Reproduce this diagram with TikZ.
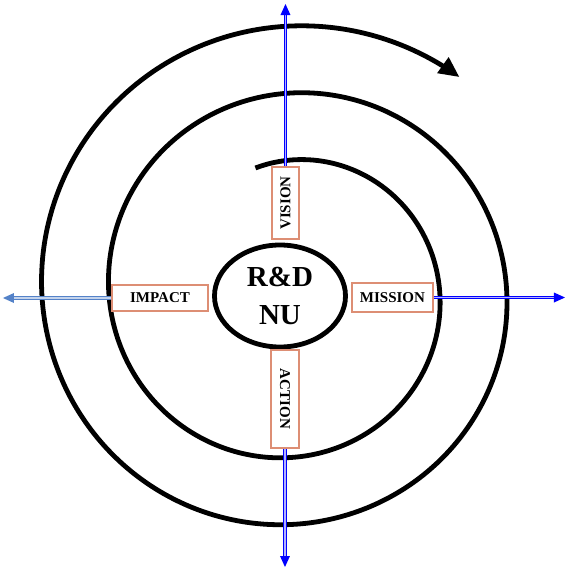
\documentclass[tikz,border=0pt]{standalone}
\usepackage{fontspec}
\setmainfont{Liberation Serif}
\usepackage{tikz}
\usetikzlibrary{shapes.geometric}
\definecolor{boxline}{RGB}{221,142,116}
\definecolor{impactblue}{RGB}{84,130,200}

\begin{document}
\begin{tikzpicture}[x=0.5pt,y=0.5pt]
\tikzstyle{every node}+=[inner sep=0pt]
\tikzstyle{label box}=[draw=boxline, line width=1pt, fill=white, font=\fontsize{7.5}{9}\selectfont\bfseries]
\tikzstyle{axis line}=[draw=blue, line width=0.6pt, double=blue!30, double distance=0.7pt]
\tikzstyle{spiral line}=[black, line width=2.4pt]
\useasboundingbox (-280,-278) rectangle (293,296);
% spiral, clockwise from the top
\draw [spiral line] plot [domain=-16:755, samples=300, smooth] ({11+(132+\x/360*67)*sin(\x)}, {4+(132+\x/360*67)*cos(\x)});
\fill [black] (179.1,219.2) -- (168.7,239.0) -- (157.1,222.8) -- cycle;
% centre and labels
\node (nu) [draw, ellipse, line width=2.4pt, fill=white, minimum width=65.5pt, minimum height=51pt, align=center, font=\fontsize{14.5}{19}\selectfont\bfseries] at (0,0) {R\&D\\NU};
\node (vision) [label box, rotate=90, minimum width=36pt, minimum height=13.5pt] at (5.5,93) {VISION};
\node (action) [label box, rotate=-90, minimum width=49pt, minimum height=14pt] at (5,-103) {ACTION};
\node (impact) [label box, minimum width=48pt, minimum height=13pt] at (-120,-2) {IMPACT};
\node (mission) [label box, minimum width=40.5pt, minimum height=14.5pt] at (112.5,-1.5) {MISSION};
% axes
\coordinate (up end) at (5.5,282);
\coordinate (down end) at (5,-261);
\coordinate (right end) at (275,-1.5);
\coordinate (left end) at (-267,-2);
\draw [axis line] (vision) -- (up end);
\fill [blue] (5.5,292) -- (0.5,281) -- (10.5,281) -- cycle;
\draw [axis line] (action) -- (down end);
\fill [blue] (5,-271) -- (0,-260) -- (10,-260) -- cycle;
\draw [axis line] (mission) -- (right end);
\fill [blue] (285,-1.5) -- (274,3.5) -- (274,-6.5) -- cycle;
\draw [axis line, draw=impactblue, double=impactblue!35] (impact) -- (left end);
\fill [impactblue] (-277,-2) -- (-266,3) -- (-266,-7) -- cycle;
\end{tikzpicture}
\end{document}
